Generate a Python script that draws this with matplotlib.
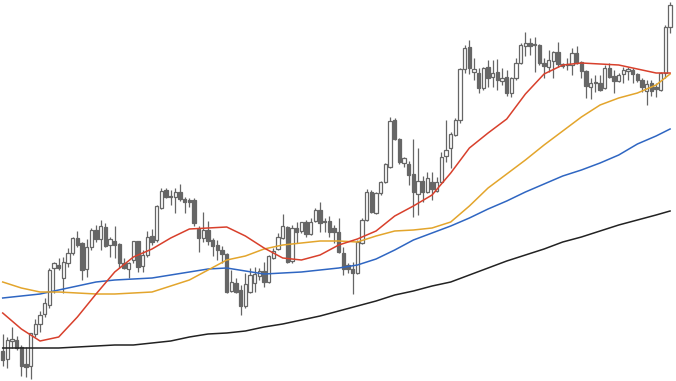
import numpy as np
import matplotlib
matplotlib.use("Agg")
import matplotlib.pyplot as plt

# OHLC (arbitrary price units)
opens = [49, 41, 59, 60, 53, 36, 34, 66, 76, 86,
         95, 132, 135, 122, 137, 147, 162, 157, 131, 153,
         170, 161, 173, 155, 159, 156, 137, 131, 140, 159,
         134, 145, 164, 160, 192, 210, 204, 203, 208, 201,
         200, 200, 171, 162, 170, 160, 155, 150, 146, 109,
         117, 110, 94, 108, 117, 124, 129, 118, 142, 151,
         162, 173, 139, 172, 169, 178, 166, 179, 190, 179,
         179, 172, 168, 147, 135, 131, 127, 157, 180, 208,
         187, 207, 218, 233, 280, 261, 237, 236, 226, 206,
         219, 208, 218, 209, 218, 244, 252, 265, 280, 331,
         353, 328, 327, 312, 333, 323, 328, 319, 323, 307,
         322, 337, 354, 357, 355, 355, 337, 333, 339, 348,
         336, 336, 335, 347, 338, 329, 313, 318, 317, 312,
         332, 324, 319, 326, 329, 330, 326, 320, 309, 317,
         313, 310, 327, 373]
highs = [66, 63, 73, 64, 55, 53, 67, 81, 89, 102,
         132, 138, 142, 143, 152, 163, 169, 158, 161, 172,
         175, 180, 177, 163, 174, 157, 142, 138, 159, 159,
         150, 169, 171, 195, 212, 212, 210, 212, 216, 203,
         202, 202, 174, 188, 179, 162, 160, 154, 147, 130,
         122, 115, 127, 132, 133, 132, 138, 145, 152, 167,
         186, 174, 175, 178, 178, 180, 182, 192, 198, 182,
         184, 175, 182, 153, 137, 138, 160, 182, 211, 210,
         208, 219, 237, 283, 282, 262, 243, 239, 261, 252,
         224, 228, 228, 223, 248, 280, 268, 282, 332, 355,
         360, 342, 332, 333, 340, 340, 341, 332, 330, 323,
         342, 357, 368, 362, 363, 356, 342, 350, 349, 358,
         337, 342, 352, 354, 339, 330, 322, 325, 325, 335,
         337, 330, 327, 333, 333, 332, 327, 322, 320, 320,
         317, 328, 375, 398]
lows = [34, 32, 52, 50, 24, 23, 21, 63, 68, 83,
        92, 107, 130, 107, 133, 145, 153, 120, 123, 150,
        158, 150, 153, 143, 142, 132, 131, 122, 137, 128,
        128, 143, 155, 158, 191, 202, 195, 187, 199, 187,
        193, 174, 148, 158, 155, 144, 140, 137, 107, 108,
        107, 85, 92, 107, 108, 120, 113, 117, 141, 150,
        161, 137, 137, 157, 167, 163, 165, 178, 168, 168,
        163, 157, 147, 125, 127, 106, 126, 156, 179, 187,
        186, 205, 217, 232, 260, 236, 233, 215, 183, 185,
        198, 207, 200, 208, 217, 238, 232, 264, 277, 327,
        326, 320, 307, 310, 313, 313, 310, 315, 304, 303,
        320, 336, 344, 345, 328, 335, 322, 328, 322, 333,
        332, 330, 325, 336, 322, 302, 301, 308, 309, 311,
        322, 307, 318, 317, 320, 317, 318, 308, 295, 304,
        303, 309, 322, 367]
closes = [40, 60, 61, 52, 34, 33, 67, 76, 85, 97,
          130, 137, 132, 138, 147, 162, 155, 130, 153, 170,
          161, 174, 154, 161, 155, 137, 132, 137, 159, 133,
          145, 163, 158, 194, 209, 203, 203, 208, 201, 198,
          198, 177, 162, 170, 159, 154, 150, 146, 108, 118,
          108, 94, 116, 125, 126, 129, 118, 144, 149, 163,
          174, 138, 172, 168, 178, 166, 178, 190, 177, 178,
          168, 168, 148, 131, 131, 127, 158, 180, 208, 188,
          207, 218, 236, 279, 261, 238, 242, 225, 208, 219,
          208, 222, 211, 218, 243, 250, 266, 280, 331, 352,
          332, 331, 312, 332, 322, 327, 320, 322, 307, 322,
          337, 355, 357, 354, 356, 337, 334, 340, 348, 336,
          334, 335, 347, 337, 329, 314, 317, 317, 310, 332,
          323, 319, 325, 330, 331, 326, 320, 313, 316, 309,
          311, 327, 373, 395]

# moving averages, read every 4th bar
ma_bars = list(range(0, 141, 4)) + [143]
ma_fast = [87, 71, 59, 63, 83, 106, 128, 143, 151, 162, 171, 172, 173, 164, 152,
           142, 140, 145, 155, 161, 169, 184, 194, 205, 227, 252, 267, 281, 306,
           326, 335, 337, 336, 335, 331, 327, 327]
ma_mid = [118, 112, 108, 108, 107, 106, 106, 107, 108, 114, 120, 130, 140, 144,
          151, 155, 157, 159, 159, 158, 164, 169, 170, 172, 178, 194, 212, 226,
          240, 255, 269, 283, 295, 302, 307, 315, 326]
ma_slow = [102, 104, 106, 110, 114, 118, 120, 121, 122, 125, 128, 131, 132, 129,
           126, 127, 128, 130, 132, 135, 141, 150, 160, 167, 174, 182, 191, 199,
           208, 216, 224, 230, 237, 245, 256, 264, 271]
ma_long = [52, 52, 52, 52, 53, 54, 55, 55, 57, 59, 63, 66, 67, 69, 73, 76, 80, 84,
           89, 94, 99, 105, 109, 114, 118, 125, 132, 139, 145, 151, 158, 163, 169,
           175, 180, 185, 189]

o = np.array(opens)
h = np.array(highs)
l = np.array(lows)
c = np.array(closes)
x = np.arange(len(o))
up = c >= o

fig = plt.figure(figsize=(6.76, 3.81), dpi=100)
ax = fig.add_axes([0, 0, 1, 1])
ax.set_axis_off()

grey = "#666666"
ax.vlines(x, l, h, color=grey, linewidth=0.9, zorder=1)
body_bottom = np.minimum(o, c)
body_height = np.maximum(np.abs(c - o), 0.8)
ax.bar(x[up], body_height[up], bottom=body_bottom[up], width=0.68,
       facecolor="white", edgecolor=grey, linewidth=0.9, zorder=2)
ax.bar(x[~up], body_height[~up], bottom=body_bottom[~up], width=0.68,
       facecolor=grey, edgecolor=grey, linewidth=0.9, zorder=2)

ax.plot(ma_bars, ma_long, color="#222222", linewidth=1.1, zorder=3)
ax.plot(ma_bars, ma_slow, color="#2f66c2", linewidth=1.1, zorder=3)
ax.plot(ma_bars, ma_mid, color="#e3a52c", linewidth=1.1, zorder=3)
ax.plot(ma_bars, ma_fast, color="#d8402c", linewidth=1.1, zorder=3)

ax.set_xlim(-0.58, 144.27)
ax.set_ylim(19, 400)

fig.savefig("out.png", dpi=100)
